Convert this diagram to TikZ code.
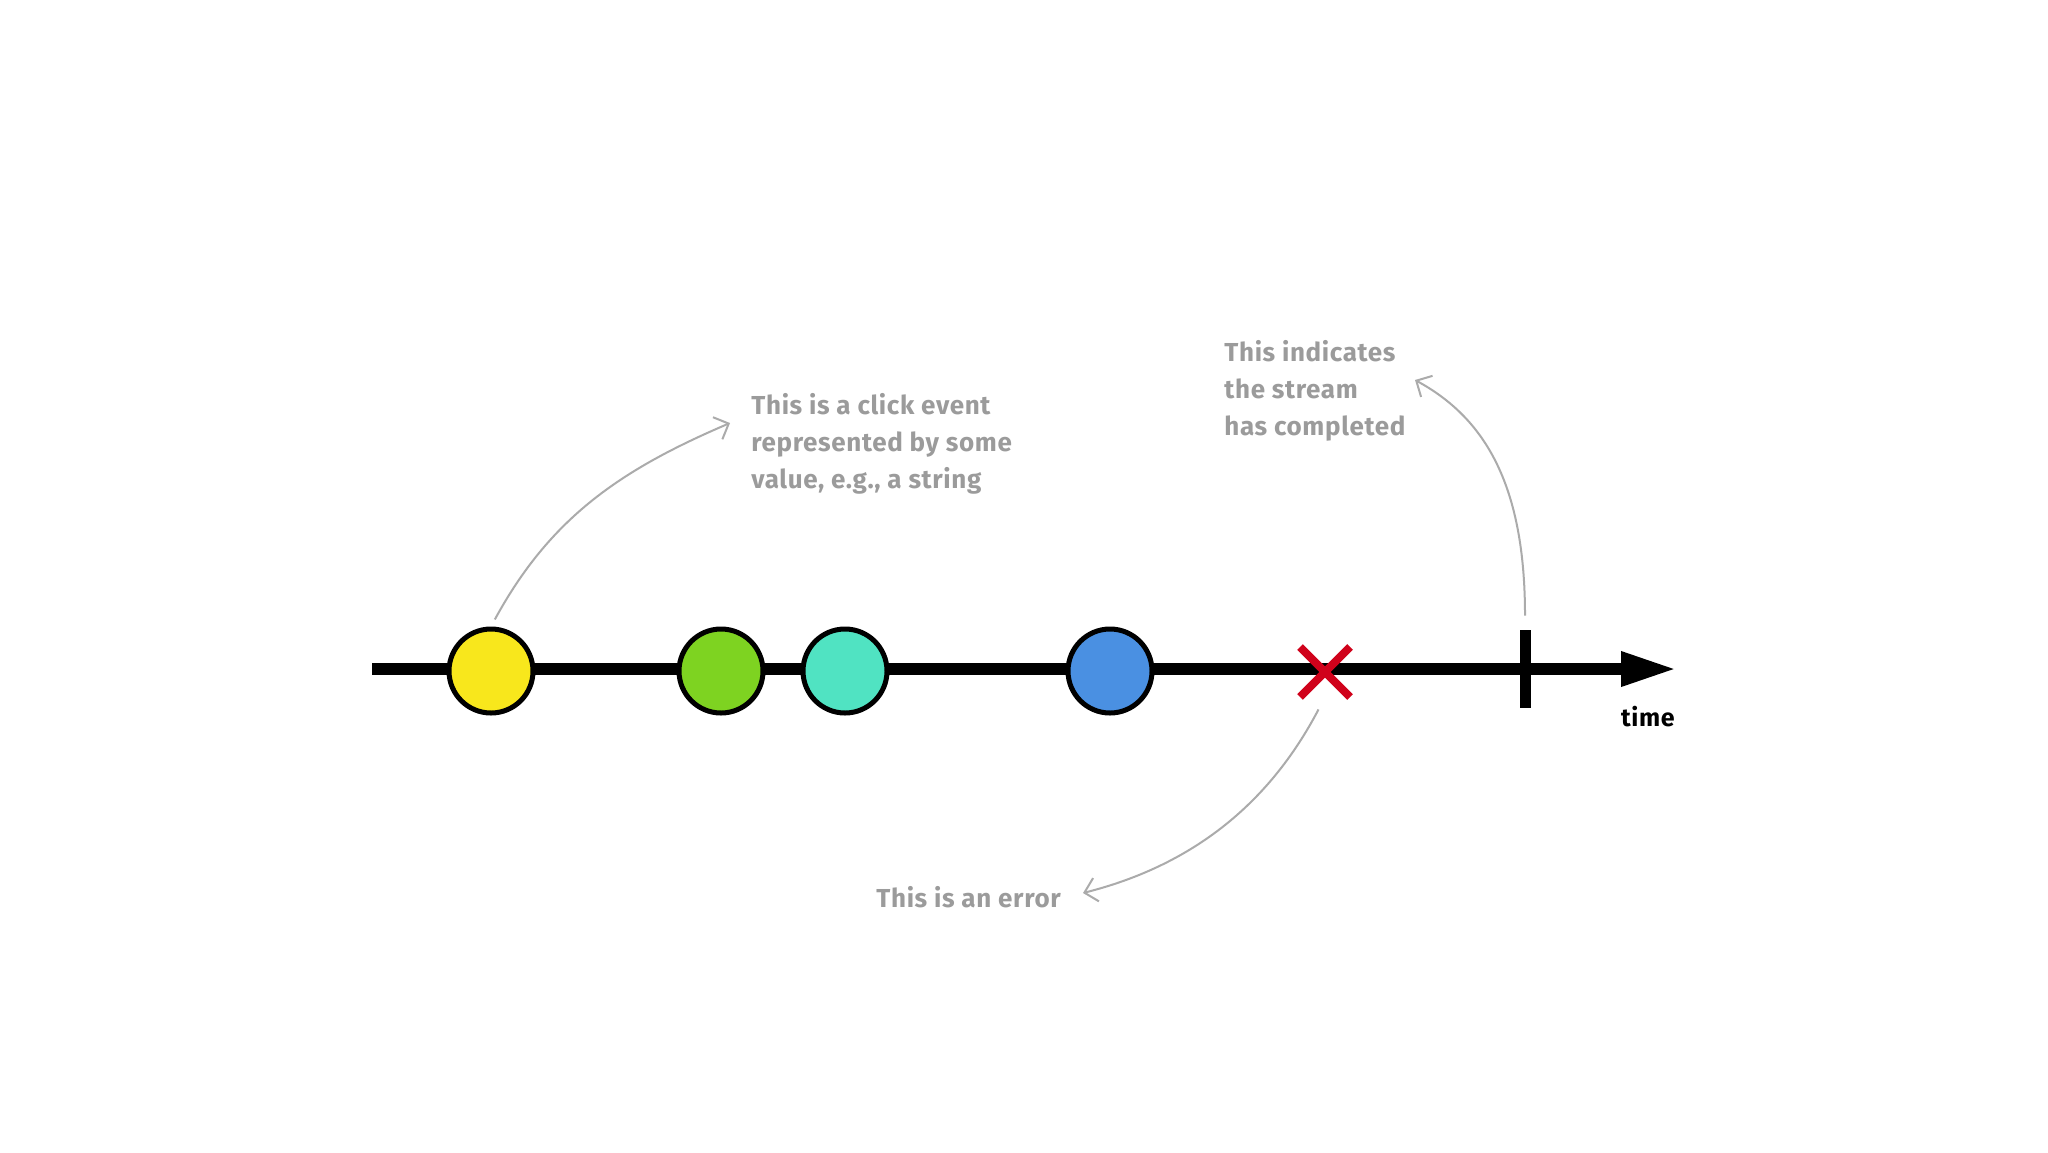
\documentclass[tikz,border=0pt]{standalone}
\usepackage{fontspec}
\setmainfont{Fira Sans}
\newfontfamily\notefont[LetterSpace=2.5]{Fira Sans}
\usetikzlibrary{arrows.meta,shapes.misc,calc}
\definecolor{cyellow}{HTML}{F8E71C}
\definecolor{cgreen}{HTML}{7ED321}
\definecolor{cteal}{HTML}{50E3C2}
\definecolor{cblue}{HTML}{4A90E2}
\definecolor{errred}{HTML}{D0021B}
\definecolor{notegray}{HTML}{9B9B9B}
\definecolor{linegray}{HTML}{ABABAB}
\begin{document}
\begin{tikzpicture}[x=0.5pt,y=-0.5pt,
  event/.style={circle,draw=black,line width=2.5pt,minimum size=42pt,inner sep=0pt},
  note/.style={font=\notefont\bfseries\fontsize{13}{18.5}\selectfont,text=notegray,align=left,inner sep=0pt},
  pointer/.style={draw=linegray,line width=1pt,-{Straight Barb[length=6pt,width=12pt]}},
  timeline/.style={line width=6pt,-{Triangle[length=28pt,width=16pt]}}
]
\fill[white] (0,0) rectangle (2048,1152);
\useasboundingbox (0,0) rectangle (2048,1152);

\coordinate (tstart) at (372,669);
\coordinate (tend) at (1677,669);
\draw[timeline] (tstart) -- (tend);

\node[event,fill=cyellow] (y1) at (491,671) {};
\node[event,fill=cgreen] (g1) at (721,671) {};
\node[event,fill=cteal] (t1) at (845,671) {};
\node[event,fill=cblue] (b1) at (1110,671) {};
\node[cross out,draw=errred,line width=4pt,minimum size=21pt,inner sep=0pt] (err) at (1325,672) {};
\node[fill=black,minimum width=5.5pt,minimum height=39pt,inner sep=0pt] (tick) at (1525,669) {};
\node[font=\notefont\bfseries\fontsize{12.5}{15}\selectfont,anchor=base east,inner sep=0pt] (tlabel) at (1675,726) {time};

\node[note,anchor=north west] (n1) at (751,393) {This is a click event\\represented by some\\value, e.g., a string};
\node[note,anchor=north west] (n2) at (1224,340) {This indicates\\the stream\\has completed};
\node[note,anchor=base west] (n3) at (876,907) {This is an error};

\coordinate (p1) at (730,423);
\coordinate (p2) at (1415,380);
\coordinate (p3) at (1083,893);
\draw[pointer,shorten <=4pt] (y1.north) .. controls (550,518) and (620,470) .. (p1);
\draw[pointer,shorten <=7pt] (tick.north) .. controls (1525,485) and (1485,418) .. (p2);
\draw[pointer,shorten <=7pt] (err.south) .. controls (1268,806) and (1190,866) .. (p3);
\end{tikzpicture}
\end{document}
